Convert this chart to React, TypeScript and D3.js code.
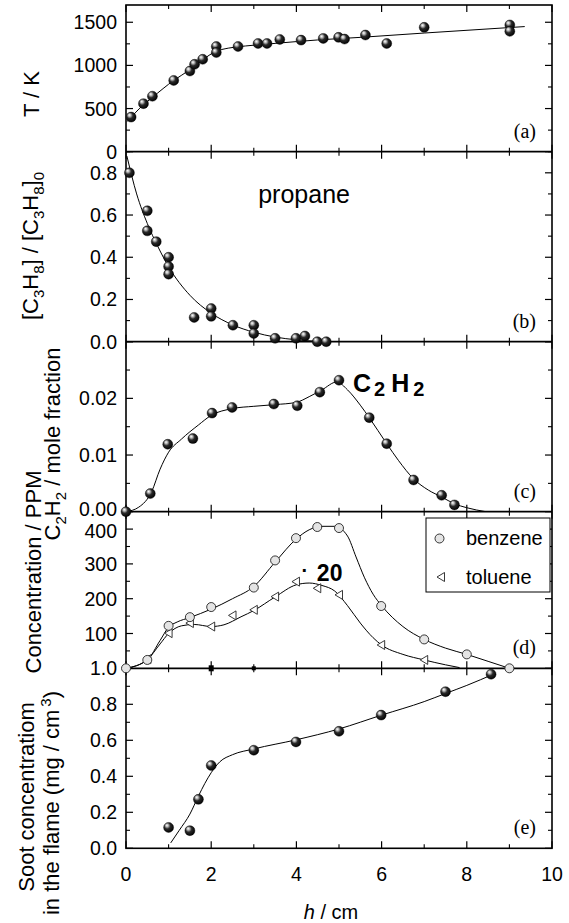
import React from "react";
import * as d3 from "d3";

// ---- (a) flame temperature ----
const tempH = [0.12, 0.41, 0.62, 1.12, 1.5, 1.61, 1.8, 2.12, 2.12, 2.63, 3.1, 3.31, 3.61, 4.11, 4.63, 4.99, 5.13, 5.62, 6.12, 7.0, 9.01, 9.01];
const tempT = [401, 557, 643, 826, 935, 1013, 1071, 1219, 1149, 1219, 1254, 1254, 1301, 1293, 1313, 1325, 1305, 1352, 1254, 1441, 1469, 1395];
const tempFitH = [0.03, 0.4, 0.62, 1.12, 1.5, 1.8, 2.1, 2.4, 2.8, 3.5, 4.5, 5.5, 7.0, 9.36];
const tempFitT = [350, 540, 630, 826, 950, 1065, 1160, 1200, 1225, 1255, 1295, 1325, 1375, 1450];
const tempTicks = [0, 500, 1000, 1500];

// ---- (b) propane decay ----
const propH = [0.08, 0.5, 0.5, 0.71, 1.0, 1.0, 1.0, 1.6, 2.0, 2.0, 2.51, 3.0, 3.0, 3.5, 3.99, 4.2, 4.49, 4.7];
const propV = [0.8, 0.62, 0.525, 0.474, 0.4, 0.356, 0.32, 0.115, 0.157, 0.12, 0.078, 0.078, 0.039, 0.016, 0.016, 0.027, 0.0, 0.0];
const propFitH = [0.02, 0.25, 0.5, 0.75, 1.0, 1.5, 2.0, 2.5, 3.0, 3.5, 4.0, 4.5, 5.1];
const propFitV = [0.88, 0.7, 0.56, 0.45, 0.355, 0.22, 0.135, 0.08, 0.045, 0.022, 0.009, 0.002, 0.0];
const propTicks = [0, 0.2, 0.4, 0.6, 0.8];

// ---- (c) acetylene ----
const c2h2H = [0, 0.57, 0.98, 1.57, 2.02, 2.49, 3.47, 4.02, 4.55, 5.0, 5.71, 6.12, 6.75, 7.41, 7.71];
const c2h2V = [0, 0.0032, 0.0119, 0.0129, 0.0174, 0.0184, 0.019, 0.0187, 0.0211, 0.0232, 0.0166, 0.012, 0.0056, 0.0029, 0.0012];
const c2h2FitH = [0, 0.3, 0.6, 0.8, 1.0, 1.3, 1.7, 2.0, 2.5, 3.0, 3.5, 4.0, 4.3, 4.6, 4.95, 5.2, 5.5, 5.71, 6.12, 6.4, 6.75, 7.1, 7.41, 7.71, 8.0, 8.45];
const c2h2FitV = [0, 0.0008, 0.0035, 0.0075, 0.0105, 0.0128, 0.0153, 0.017, 0.0182, 0.0186, 0.0189, 0.0193, 0.0203, 0.0215, 0.0229, 0.0215, 0.0188, 0.0166, 0.012, 0.009, 0.0058, 0.0038, 0.0026, 0.0014, 0.0007, 0];
const c2h2Ticks = [0, 0.01, 0.02];

// ---- (d) aromatics, PPM ----
const benzH = [0, 0.5, 1.0, 1.5, 2.0, 3.0, 3.5, 3.99, 4.49, 5.0, 5.99, 7.0, 8.0, 9.0];
const benzV = [0, 24, 122, 147, 176, 232, 310, 374, 406, 403, 179, 83, 40, 0];
const benzFitH = [0, 0.5, 0.8, 1.0, 1.2, 1.5, 2.0, 2.5, 3.0, 3.5, 4.0, 4.3, 4.6, 4.9, 5.2, 5.4, 5.6, 5.8, 6.0, 6.5, 7.0, 7.5, 8.0, 8.5, 9.0];
const benzFitV = [0, 24, 80, 118, 133, 146, 170, 200, 235, 305, 372, 398, 408, 408, 380, 320, 260, 213, 180, 120, 83, 58, 40, 20, 0];
const tolH = [0.5, 1.0, 1.5, 2.0, 2.5, 3.0, 3.5, 3.99, 4.49, 5.0, 5.99, 7.0];
const tolV = [26, 101, 130, 120, 152, 168, 206, 249, 230, 211, 67, 24];
const tolFitH = [0, 0.5, 0.8, 1.0, 1.3, 1.6, 2.0, 2.3, 2.7, 3.0, 3.5, 4.0, 4.3, 4.6, 4.9, 5.2, 5.5, 5.8, 6.0, 6.5, 7.0, 7.5, 7.83];
const tolFitV = [0, 25, 70, 100, 122, 126, 120, 125, 148, 166, 205, 240, 245, 238, 222, 180, 130, 88, 67, 40, 24, 10, 2];
const zeroMarkH = [2, 3];
const aromTicks = [100, 200, 300, 400];

// ---- (e) soot ----
const sootH = [1.0, 1.5, 1.7, 2.0, 3.0, 3.99, 5.0, 5.99, 7.5, 8.57];
const sootV = [0.116, 0.098, 0.272, 0.46, 0.545, 0.591, 0.65, 0.74, 0.87, 0.967];
const sootFitH = [1.05, 1.25, 1.5, 1.7, 1.85, 2.0, 2.2, 2.5, 3.0, 4.0, 5.0, 6.0, 7.0, 7.5, 8.0, 8.65];
const sootFitV = [0.03, 0.1, 0.19, 0.29, 0.36, 0.42, 0.48, 0.52, 0.552, 0.603, 0.663, 0.74, 0.815, 0.86, 0.905, 0.97];
const sootTicks = [0, 0.2, 0.4, 0.6, 0.8, 1.0];

const hTicks = [0, 2, 4, 6, 8, 10];
const hMinor = [1, 3, 5, 7, 9];

const SANS = "'Liberation Sans', Arial, Helvetica, sans-serif";
const SERIF = "'Liberation Serif', 'Times New Roman', serif";

const L = 126;
const R = 552;
const TICK_FONT = 19.5;

const x = d3.scaleLinear().domain([0, 10]).range([L, R]);

type Panel = {
  id: string;
  top: number;
  bottom: number;
  max: number;
  ticks: number[];
  fmt: (v: number) => string;
  showZero: boolean;
  // small vertical nudge for the lowest / highest tick label where panels meet
  lowShift: number;
  highShift: number;
};

const panels: Panel[] = [
  { id: "a", top: 5, bottom: 151.7, max: 1700, ticks: tempTicks, fmt: (v) => String(v), showZero: true, lowShift: 0, highShift: 0 },
  { id: "b", top: 151.7, bottom: 341.7, max: 0.9, ticks: propTicks, fmt: d3.format(".1f"), showZero: true, lowShift: 0, highShift: 0 },
  { id: "c", top: 341.7, bottom: 511.7, max: 0.03, ticks: c2h2Ticks, fmt: d3.format(".2f"), showZero: true, lowShift: -2.5, highShift: 0 },
  { id: "d", top: 511.7, bottom: 668.3, max: 450, ticks: aromTicks, fmt: (v) => String(v), showZero: false, lowShift: 0, highShift: 2 },
  { id: "e", top: 668.3, bottom: 848.3, max: 1.0, ticks: sootTicks, fmt: d3.format(".1f"), showZero: true, lowShift: 0, highShift: 0 },
];

const yScales = panels.map((p) => d3.scaleLinear().domain([0, p.max]).range([p.bottom, p.top]));

const pts = (hs: number[], vs: number[]) => hs.map((h, i) => [h, vs[i]] as [number, number]);

function fitPath(hs: number[], vs: number[], y: d3.ScaleLinear<number, number>) {
  const gen = d3
    .line<[number, number]>()
    .x((d) => x(d[0]))
    .y((d) => y(d[1]))
    .curve(d3.curveMonotoneX);
  return gen(pts(hs, vs)) || "";
}

function Ball({ cx, cy }: { cx: number; cy: number }) {
  return <circle cx={cx} cy={cy} r={5} fill="url(#ball)" stroke="#000" strokeWidth={0.4} />;
}

function OpenCircle({ cx, cy }: { cx: number; cy: number }) {
  return <circle cx={cx} cy={cy} r={4.5} fill="#e4e4e4" stroke="#222" strokeWidth={0.9} />;
}

function LeftTri({ cx, cy }: { cx: number; cy: number }) {
  return (
    <path
      d={`M${cx - 4},${cy} L${cx + 3.5},${cy - 4.5} L${cx + 3.5},${cy + 4.5} Z`}
      fill="#fff"
      stroke="#222"
      strokeWidth={0.9}
    />
  );
}

function PanelAxes({ p, y }: { p: Panel; y: d3.ScaleLinear<number, number> }) {
  const step = p.ticks[1] - p.ticks[0];
  const minor: number[] = [];
  for (let v = step / 2; v < p.max; v += step) {
    if (!p.ticks.some((t) => Math.abs(t - v) < step / 10)) minor.push(v);
  }
  const last = p.ticks[p.ticks.length - 1];
  const major = p.ticks.concat(last + step <= p.max + 1e-9 ? [last + step] : []);
  const labelled = p.ticks.filter((v) => p.showZero || v !== 0);
  return (
    <g>
      {major.map((v) => (
        <g key={"M" + v}>
          <line x1={L} x2={L + 7} y1={y(v)} y2={y(v)} stroke="#000" strokeWidth={1.2} />
          <line x1={R} x2={R - 7} y1={y(v)} y2={y(v)} stroke="#000" strokeWidth={1.2} />
        </g>
      ))}
      {minor.map((v) => (
        <g key={"m" + v}>
          <line x1={L} x2={L + 4} y1={y(v)} y2={y(v)} stroke="#000" strokeWidth={1.1} />
          <line x1={R} x2={R - 4} y1={y(v)} y2={y(v)} stroke="#000" strokeWidth={1.1} />
        </g>
      ))}
      {labelled.map((v, i) => {
        const shift = i === 0 ? p.lowShift : i === labelled.length - 1 ? p.highShift : 0;
        return (
          <text key={"t" + v} x={L - 9} y={y(v) + shift} dy="0.36em" textAnchor="end" fontSize={TICK_FONT} fontFamily={SANS}>
            {p.fmt(v)}
          </text>
        );
      })}
      {/* top/bottom h ticks, pointing into the panel */}
      {[p.top, p.bottom].map((yy, k) => {
        const dir = k === 0 ? 1 : -1;
        return (
          <g key={"h" + k}>
            {hTicks.map((h) => (
              <line key={h} x1={x(h)} x2={x(h)} y1={yy} y2={yy + dir * 7} stroke="#000" strokeWidth={1.2} />
            ))}
            {hMinor.map((h) => (
              <line key={h} x1={x(h)} x2={x(h)} y1={yy} y2={yy + dir * 4} stroke="#000" strokeWidth={1.1} />
            ))}
          </g>
        );
      })}
      <text x={R - 16} y={p.bottom - 14} textAnchor="end" fontSize={20} fontFamily={SERIF}>
        ({p.id})
      </text>
    </g>
  );
}

export default function App() {
  const [ya, yb, yc, yd, ye] = yScales;
  const frameTop = panels[0].top;
  const frameBottom = panels[4].bottom;
  return (
    <svg width={569} height={923} viewBox="0 0 569 923" style={{ display: "block", position: "absolute", left: 0, top: 0, background: "#fff" }}>
      <defs>
        <radialGradient id="ball" cx="0.42" cy="0.4" r="0.62" fx="0.32" fy="0.28">
          <stop offset="0" stopColor="#ffffff" />
          <stop offset="0.22" stopColor="#b8b8b8" />
          <stop offset="0.5" stopColor="#2a2a2a" />
          <stop offset="1" stopColor="#000000" />
        </radialGradient>
        {panels.map((p) => (
          <clipPath id={"clip" + p.id} key={p.id}>
            <rect x={L} y={p.top} width={R - L} height={p.bottom - p.top} />
          </clipPath>
        ))}
      </defs>
      <rect x={0} y={0} width={569} height={923} fill="#fff" />

      {/* fitted curves */}
      <g fill="none" stroke="#000" strokeWidth={1}>
        <path d={fitPath(tempFitH, tempFitT, ya)} clipPath="url(#clipa)" />
        <path d={fitPath(propFitH, propFitV, yb)} clipPath="url(#clipb)" />
        <path d={fitPath(c2h2FitH, c2h2FitV, yc)} clipPath="url(#clipc)" />
        <path d={fitPath(benzFitH, benzFitV, yd)} clipPath="url(#clipd)" />
        <path d={fitPath(tolFitH, tolFitV, yd)} clipPath="url(#clipd)" />
        <path d={fitPath(sootFitH, sootFitV, ye)} clipPath="url(#clipe)" />
      </g>

      {/* frame and panel dividers */}
      <rect x={L} y={frameTop} width={R - L} height={frameBottom - frameTop} fill="none" stroke="#000" strokeWidth={1.6} />
      {panels.slice(1).map((p) => (
        <line key={p.id} x1={L} x2={R} y1={p.top} y2={p.top} stroke="#000" strokeWidth={1.8} />
      ))}
      {panels.map((p, i) => (
        <PanelAxes key={p.id} p={p} y={yScales[i]} />
      ))}

      {/* markers */}
      {pts(tempH, tempT).map(([h, v], i) => (
        <Ball key={"a" + i} cx={x(h)} cy={ya(v)} />
      ))}
      {pts(propH, propV).map(([h, v], i) => (
        <Ball key={"b" + i} cx={x(h)} cy={yb(v)} />
      ))}
      {pts(c2h2H, c2h2V).map(([h, v], i) => (
        <Ball key={"c" + i} cx={x(h)} cy={yc(v)} />
      ))}
      {zeroMarkH.map((h, i) => (
        <rect key={"z" + i} x={x(h) - (i === 0 ? 2.5 : 2)} y={yd(0) - (i === 0 ? 3 : 2)} width={i === 0 ? 5 : 4} height={i === 0 ? 6 : 4} fill="#000" />
      ))}
      {pts(tolH, tolV).map(([h, v], i) => (
        <LeftTri key={"t" + i} cx={x(h)} cy={yd(v)} />
      ))}
      {pts(benzH, benzV).map(([h, v], i) => (
        <OpenCircle key={"d" + i} cx={x(h)} cy={yd(v)} />
      ))}
      {pts(sootH, sootV).map(([h, v], i) => (
        <Ball key={"e" + i} cx={x(h)} cy={ye(v)} />
      ))}

      {/* annotations */}
      <text x={x(4.18)} y={yb(0.655)} textAnchor="middle" fontSize={25} fontFamily={SANS}>
        propane
      </text>
      <text x={x(5.33)} y={yc(0.0212)} fontSize={25} fontWeight="bold" fontFamily={SANS}>
        C<tspan fontSize={20} dy={4} dx={3}>2</tspan>
        <tspan dy={-4} dx={6}>H</tspan>
        <tspan fontSize={20} dy={4} dx={4}>2</tspan>
      </text>
      <text x={x(4.12)} y={yd(262)} fontSize={20} fontWeight="bold" fontFamily={SANS}>
        ·
      </text>
      <text x={x(4.48)} y={yd(250)} fontSize={23} fontWeight="bold" fontFamily={SANS}>
        20
      </text>

      {/* legend */}
      <g>
        <rect x={426} y={518} width={124} height={74} fill="#fff" stroke="#000" strokeWidth={1} />
        <OpenCircle cx={439.5} cy={538.5} />
        <text x={466} y={545} fontSize={20} fontFamily={SANS}>
          benzene
        </text>
        <LeftTri cx={441} cy={577} />
        <text x={466} y={584} fontSize={20} fontFamily={SANS}>
          toluene
        </text>
      </g>

      {/* x axis */}
      {hTicks.map((h) => (
        <text key={h} x={x(h)} y={881} textAnchor="middle" fontSize={TICK_FONT} fontFamily={SANS}>
          {h}
        </text>
      ))}
      <text x={(L + R) / 2 - 8} y={919} textAnchor="middle" fontSize={20} fontFamily={SANS}>
        <tspan fontStyle="italic">h</tspan> / cm
      </text>

      {/* y axis titles */}
      <g fontFamily={SANS} fontSize={22} textAnchor="middle">
        <text transform="translate(31,94) rotate(-90)" dy="0.35em">
          T / K
        </text>
        <text transform="translate(30,246) rotate(-90)" dy="0.35em">
          [C<tspan fontSize={15} dy={6}>3</tspan>
          <tspan dy={-6}>H</tspan>
          <tspan fontSize={15} dy={6}>8</tspan>
          <tspan dy={-6}>] / [C</tspan>
          <tspan fontSize={15} dy={6}>3</tspan>
          <tspan dy={-6}>H</tspan>
          <tspan fontSize={15} dy={6}>8</tspan>
          <tspan dy={-6}>]</tspan>
          <tspan fontSize={15} dy={6}>0</tspan>
        </text>
        <text transform="translate(52,444) rotate(-90)" dy="0.35em">
          C<tspan fontSize={15} dy={6}>2</tspan>
          <tspan dy={-6}>H</tspan>
          <tspan fontSize={15} dy={6}>2</tspan>
          <tspan dy={-6}> / mole fraction</tspan>
        </text>
        <text transform="translate(33,572) rotate(-90)" dy="0.35em">
          Concentration / PPM
        </text>
        <text transform="translate(26,797) rotate(-90)" dy="0.35em">
          Soot concentratiom
        </text>
        <text transform="translate(51,803) rotate(-90)" dy="0.35em">
          in the flame (mg / cm<tspan fontSize={15} dx={3} dy={-8}>3</tspan>
          <tspan dy={8}>)</tspan>
        </text>
      </g>
    </svg>
  );
}
